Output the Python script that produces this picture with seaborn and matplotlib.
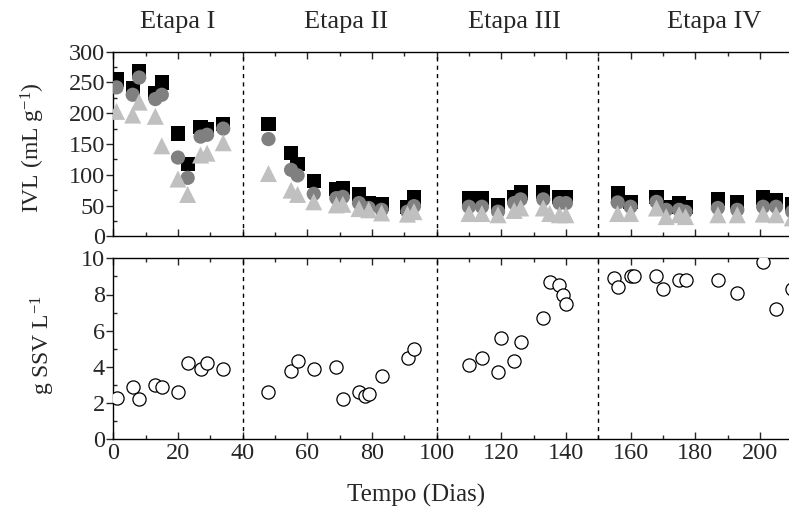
import numpy as np
import pandas as pd
import matplotlib
matplotlib.use("Agg")
import matplotlib.pyplot as plt
from matplotlib.ticker import MultipleLocator
import seaborn as sns

# ---------------- data ----------------
dias_ivl = [1, 6, 8, 13, 15, 20, 23, 27, 29, 34,
            48, 55, 57, 62, 69, 71, 76, 79, 83, 91, 93,
            110, 114, 119, 124, 126, 133, 135, 138, 140,
            156, 160, 168, 171, 175, 177, 187, 193, 201, 205, 210]
ivl_quadrado = [255, 241, 268, 233, 250, 167, 117, 178, 174, 183,
                182, 135, 117, 90, 77, 79, 69, 54, 52, 48, 63,
                62, 62, 51, 64, 71, 72, np.nan, 64, 64,
                70, 56, 64, 47, 54, 48, 60, 56, 63, 59, 52]
ivl_circulo = [242, 230, 258, 223, 230, 128, 95, 162, 165, 175,
               158, 108, 99, 69, 62, 64, 54, 46, 43, 40, 49,
               48, 48, 40, 54, 60, 60, np.nan, 54, 54,
               55, 48, 56, 43, 43, 40, 46, 43, 48, 48, 40]
ivl_triangulo = [203, 197, 218, 195, 147, 93, 68, 132, 135, 152,
                 102, 75, 68, 56, 51, 52, 45, 43, 38, 36, 40,
                 37, 37, 35, 42, 46, 46, 37, 35, 35,
                 37, 37, 46, 32, 35, 32, 35, 35, 36, 35, 30]

dias_ssv = [1, 6, 8, 13, 15, 20, 23, 27, 29, 34,
            48, 55, 57, 62, 69, 71, 76, 78, 79, 83, 91, 93,
            110, 114, 119, 120, 124, 126, 133, 135, 138, 139, 140,
            155, 156, 160, 161, 168, 170, 175, 177, 187, 193, 201, 205, 210]
ssv = [2.3, 2.9, 2.2, 3.0, 2.9, 2.6, 4.2, 3.9, 4.2, 3.9,
       2.6, 3.8, 4.3, 3.9, 4.0, 2.2, 2.6, 2.4, 2.5, 3.5, 4.5, 5.0,
       4.1, 4.5, 3.7, 5.6, 4.3, 5.4, 6.7, 8.7, 8.5, 8.0, 7.5,
       8.9, 8.4, 9.0, 9.0, 9.0, 8.3, 8.8, 8.8, 8.8, 8.1, 9.8, 7.2, 8.3]

etapas = ["Etapa I", "Etapa II", "Etapa III", "Etapa IV"]
etapa_centros = [20, 72, 124, 186]
limites = [40, 100, 150]

df_ivl = pd.DataFrame({"dia": dias_ivl, "q": ivl_quadrado,
                       "c": ivl_circulo, "t": ivl_triangulo})
df_ssv = pd.DataFrame({"dia": dias_ssv, "ssv": ssv})

# ---------------- style ----------------
sns.set_style("ticks")
plt.rcParams["font.family"] = ["Liberation Serif", "DejaVu Serif"]
plt.rcParams["mathtext.fontset"] = "custom"
plt.rcParams["mathtext.rm"] = "Liberation Serif"
plt.rcParams["mathtext.it"] = "Liberation Serif:italic"

W, H = 789, 518
fig = plt.figure(figsize=(W / 100, H / 100), dpi=100)

x0 = 113.3
px_per_day = 3.233
xmax = 210
left = x0 / W
width = xmax * px_per_day / W

ax1 = fig.add_axes([left, 1 - 236.3 / H, width, (236.3 - 51.7) / H])
ax2 = fig.add_axes([left, 1 - 439.3 / H, width, (439.3 - 258.3) / H])

sns.scatterplot(data=df_ivl, x="dia", y="q", ax=ax1, marker="s", s=105,
                color="black", edgecolor="none", linewidth=0, zorder=3)
sns.scatterplot(data=df_ivl, x="dia", y="c", ax=ax1, marker="o", s=105,
                color="#808080", edgecolor="none", linewidth=0, zorder=4)
sns.scatterplot(data=df_ivl, x="dia", y="t", ax=ax1, marker="^", s=150,
                color="#c0c0c0", edgecolor="none", linewidth=0, zorder=5)

sns.scatterplot(data=df_ssv, x="dia", y="ssv", ax=ax2, marker="o", s=90,
                facecolor="white", edgecolor="black", linewidth=0.9, zorder=3)

for ax in (ax1, ax2):
    ax.set_xlim(0, xmax)
    for lim in limites:
        ax.axvline(lim, color="black", linestyle=(0, (3, 3)), linewidth=1.0, zorder=1)
    ax.xaxis.set_major_locator(MultipleLocator(20))
    ax.xaxis.set_minor_locator(MultipleLocator(10))
    ax.tick_params(axis="x", which="both", direction="in", top=True, bottom=True)
    ax.tick_params(axis="x", which="major", length=5, width=1)
    ax.tick_params(axis="x", which="minor", length=3, width=1)
    ax.tick_params(axis="y", which="major", direction="out", length=5, width=1,
                   labelsize=17.5, pad=1)
    ax.tick_params(axis="y", which="minor", direction="in", length=3, width=1, left=True)
    ax.set_xlabel("")
    ax.set_ylabel("")
    for sp in ax.spines.values():
        sp.set_linewidth(1.0)
        sp.set_color("black")

ax1.set_ylim(0, 300)
ax1.yaxis.set_major_locator(MultipleLocator(50))
ax1.yaxis.set_minor_locator(MultipleLocator(25))
ax1.tick_params(axis="x", labelbottom=False)

ax2.set_ylim(0, 10)
ax2.yaxis.set_major_locator(MultipleLocator(2))
ax2.yaxis.set_minor_locator(MultipleLocator(1))
ax2.tick_params(axis="x", which="major", labelsize=17.5, pad=3)

fig.text(33 / W, 1 - 148 / H, r"IVL (mL g$^{\mathregular{-1}}$)", rotation=90,
         ha="center", va="center", fontsize=17)
fig.text(43 / W, 1 - 345 / H, r"g SSV L$^{\mathregular{-1}}$", rotation=90,
         ha="center", va="center", fontsize=17)
fig.text(416 / W, 1 - 495 / H, "Tempo (Dias)", ha="center", va="center", fontsize=18)

for nome, c in zip(etapas, etapa_centros):
    ax1.text(c, 1.0 + 30 / 184.6, nome, transform=ax1.get_xaxis_transform(),
             ha="center", va="center", fontsize=19)

fig.savefig("out.png", dpi=100)
